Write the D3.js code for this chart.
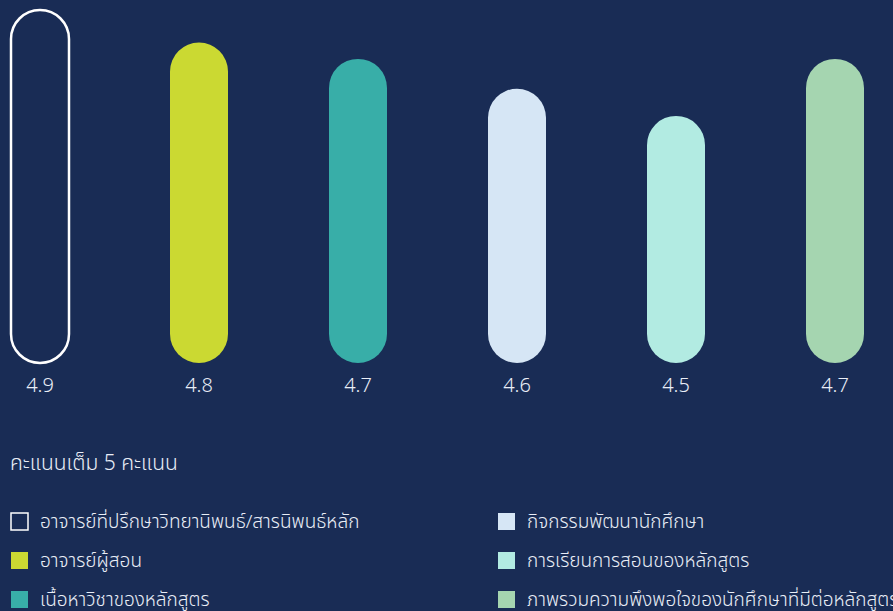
<!DOCTYPE html>
<meta charset="utf-8">
<style>
  body { margin: 0; background: #192c55; }
  svg { display: block; font-family: "Noto Sans Thai", "Noto Sans", sans-serif; }
  .val { fill: #e9eef7; font-size: 20px; font-weight: 300; }
  .legend text { fill: #e9eef7; font-size: 19px; font-weight: 300; }
  .title { fill: #e9eef7; font-size: 21px; font-weight: 300; }
</style>
<svg width="893" height="611"></svg>
<script src="https://cdn.jsdelivr.net/npm/d3@7"></script>
<script>

// data
let categories = [
  "อาจารย์ที่ปรึกษาวิทยานิพนธ์/สารนิพนธ์หลัก",
  "อาจารย์ผู้สอน",
  "เนื้อหาวิชาของหลักสูตร",
  "กิจกรรมพัฒนานักศึกษา",
  "การเรียนการสอนของหลักสูตร",
  "ภาพรวมความพึงพอใจของนักศึกษาที่มีต่อหลักสูตร"
];
let scores = [4.90, 4.78, 4.72, 4.61, 4.51, 4.72];
let colors = ["none", "#cbd932", "#38aea8", "#d6e6f5", "#b2ebe2", "#a5d5b0"];
let title = "คะแนนเต็ม 5 คะแนน";

let svg = d3.select("svg");
let barW = 58;

let x = d3.scalePoint()
  .domain(categories)
  .range([40, 835]);

let y = d3.scaleLinear()
  .domain([3.6, 4.9])
  .range([363, 10]);

let data = categories.map((c, i) => ({cat: c, v: scores[i], col: colors[i]}));

svg.append("g").selectAll("rect")
  .data(data)
  .enter().append("rect")
  .attr("x", d => x(d.cat) - barW/2)
  .attr("y", d => y(d.v))
  .attr("width", barW)
  .attr("height", d => y.range()[0] - y(d.v))
  .attr("rx", barW/2)
  .attr("ry", barW/2)
  .attr("fill", d => d.col)
  .attr("stroke", d => d.col == "none" ? "#ffffff" : null)
  .attr("stroke-width", 2.5);

svg.append("g").selectAll("text")
  .data(data)
  .enter().append("text")
  .attr("class", "val")
  .attr("x", d => x(d.cat))
  .attr("y", 392)
  .attr("text-anchor", "middle")
  .text(d => d3.format(".1f")(d.v));

svg.append("text")
  .attr("class", "title")
  .attr("x", 10)
  .attr("y", 470)
  .text(title);

// legend, two columns of three
let legend = svg.append("g").attr("class", "legend")
  .selectAll("g")
  .data(data)
  .enter().append("g")
  .attr("transform", (d, i) => "translate(" + (i < 3 ? 11 : 498) + "," + (513 + (i % 3) * 39) + ")");

legend.append("rect")
  .attr("width", 17)
  .attr("height", 17)
  .attr("fill", d => d.col)
  .attr("stroke", d => d.col == "none" ? "#ffffff" : null)
  .attr("stroke-width", 1.5);

legend.append("text")
  .attr("x", 29)
  .attr("y", 15)
  .text(d => d.cat);

</script>
